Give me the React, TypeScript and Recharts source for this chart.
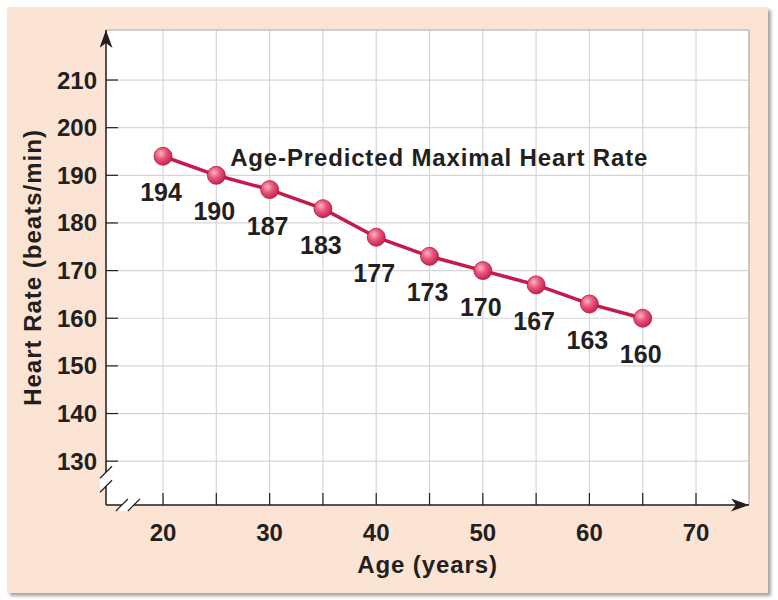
import { LineChart, Line, XAxis, YAxis, CartesianGrid, ReferenceLine, ReferenceDot, LabelList } from 'recharts';

const ages = [20, 25, 30, 35, 40, 45, 50, 55, 60, 65];
const heartRates = [194, 190, 187, 183, 177, 173, 170, 167, 163, 160];
const xTicks = [20, 25, 30, 35, 40, 45, 50, 55, 60, 65, 70];
const yTicks = [130, 140, 150, 160, 170, 180, 190, 200, 210];
const xDomain = [14.65, 74.97];
const yDomain = [120.8, 220.5];
const seriesTitle = 'Age-Predicted Maximal Heart Rate';
const xTitle = 'Age (years)';
const yTitle = 'Heart Rate (beats/min)';

const data = ages.map((age, i) => ({ age, rate: heartRates[i] }));

const INK = '#231f20';
const FONT = '"Liberation Sans", Arial, Helvetica, sans-serif';
const textStyle = { fontFamily: FONT, fontWeight: 700, fontSize: 24, fill: INK };

const XTick = (p: any) => {
  const { x, y, payload } = p;
  return (
    <g>
      <line x1={x} x2={x} y1={y} y2={y - 12} stroke={INK} strokeWidth={1.2} />
      {payload.value % 10 === 0 && (
        <text x={x} y={y + 36} textAnchor="middle" {...textStyle}>{payload.value}</text>
      )}
    </g>
  );
};

const YTick = (p: any) => {
  const { x, y, payload } = p;
  return (
    <g>
      <line x1={x} x2={x + 12} y1={y} y2={y} stroke={INK} strokeWidth={1.2} />
      <text x={x - 9} y={y + 8.5} textAnchor="end" {...textStyle}>{payload.value}</text>
    </g>
  );
};

const Ball = (p: any) => {
  const { cx, cy } = p;
  if (cx == null || cy == null) return null;
  return <circle cx={cx} cy={cy} r={9} fill="url(#ballGrad)" stroke="#b3173f" strokeWidth={0.8} />;
};

const ValueLabel = (p: any) => {
  const { x, y, value } = p;
  return (
    <text x={x - 2} y={y + 45} textAnchor="middle" {...textStyle} fontSize={25}>{value}</text>
  );
};

// double-slash axis break marks
const BreakY = (p: any) => {
  const { cx, cy } = p;
  return (
    <g>
      <polygon points={`${cx - 6},${cy - 1} ${cx + 6},${cy - 13} ${cx + 6},${cy + 1} ${cx - 6},${cy + 13}`} fill="#fff" />
      <line x1={cx - 6} y1={cy - 1} x2={cx + 6} y2={cy - 13} stroke={INK} strokeWidth={1.2} />
      <line x1={cx - 6} y1={cy + 13} x2={cx + 6} y2={cy + 1} stroke={INK} strokeWidth={1.2} />
    </g>
  );
};

const BreakX = (p: any) => {
  const { cx, cy } = p;
  return (
    <g>
      <polygon points={`${cx - 12},${cy + 6} ${cx},${cy - 6} ${cx + 12},${cy - 6} ${cx},${cy + 6}`} fill="#fff" />
      <line x1={cx - 12} y1={cy + 6} x2={cx} y2={cy - 6} stroke={INK} strokeWidth={1.2} />
      <line x1={cx} y1={cy + 6} x2={cx + 12} y2={cy - 6} stroke={INK} strokeWidth={1.2} />
    </g>
  );
};

const TitleText = (p: any) => (
  <text x={p.cx} y={p.cy} textAnchor="start" letterSpacing={0.85} {...textStyle}>{seriesTitle}</text>
);

const XLabel = (p: any) => {
  const vb = p.viewBox;
  return (
    <text x={vb.x + vb.width / 2} y={vb.y + 68} textAnchor="middle" letterSpacing={0.9} {...textStyle}>{xTitle}</text>
  );
};

const YLabel = (p: any) => {
  const vb = p.viewBox;
  const cx = vb.x + 25;
  const cy = vb.y + vb.height / 2;
  return (
    <text x={cx} y={cy} textAnchor="middle" dominantBaseline="central" letterSpacing={1}
      transform={`rotate(-90 ${cx} ${cy})`} {...textStyle}>{yTitle}</text>
  );
};

export default function App() {
  return (
    <div style={{ position: 'absolute', left: 7, top: 7, width: 761, height: 586, background: '#fce4d4', boxShadow: '3px 3px 3px rgba(0,0,0,0.35)' }}>
      <LineChart width={761} height={586} data={data} margin={{ top: 23, right: 19, bottom: 0, left: 0 }}>
        <defs>
          <radialGradient id="ballGrad" cx="38%" cy="35%" r="70%">
            <stop offset="0%" stopColor="#fbb3c3" />
            <stop offset="45%" stopColor="#e8557a" />
            <stop offset="100%" stopColor="#c41c4c" />
          </radialGradient>
          <marker id="arrowHead" markerUnits="userSpaceOnUse" markerWidth={18} markerHeight={13}
            viewBox="0 0 18 13" refX={18} refY={6.5} orient="auto-start-reverse">
            <path d="M0,0 L18,6.5 L0,13 L5,6.5 Z" fill={INK} />
          </marker>
        </defs>
        <CartesianGrid stroke="#d6d6d6" strokeWidth={1.2} fill="#fff" />
        <ReferenceLine y={yDomain[1]} stroke="#b8b8b8" strokeWidth={1.2} />
        <ReferenceLine x={xDomain[1]} stroke="#b8b8b8" strokeWidth={1.2} />
        <XAxis dataKey="age" type="number" domain={xDomain} ticks={xTicks} height={88}
          tickSize={0} tickMargin={0} tickLine={false} tick={<XTick />} interval={0}
          axisLine={{ stroke: INK, strokeWidth: 1.5, markerEnd: 'url(#arrowHead)' }}
          label={<XLabel />} />
        <YAxis type="number" domain={yDomain} ticks={yTicks} width={99}
          tickSize={0} tickMargin={0} tickLine={false} tick={<YTick />} interval={0}
          axisLine={{ stroke: INK, strokeWidth: 1.5, markerStart: 'url(#arrowHead)' }}
          label={<YLabel />} />
        <Line dataKey="rate" stroke="#c41a4e" strokeWidth={3.5} dot={<Ball />} activeDot={false}
          isAnimationActive={false}>
          <LabelList dataKey="rate" content={<ValueLabel />} />
        </Line>
        <ReferenceDot x={26.3} y={192} r={0} shape={<TitleText />} ifOverflow="visible" />
        <ReferenceDot x={xDomain[0]} y={126.2} r={0} shape={<BreakY />} ifOverflow="visible" />
        <ReferenceDot x={16.7} y={yDomain[0]} r={0} shape={<BreakX />} ifOverflow="visible" />
      </LineChart>
    </div>
  );
}
